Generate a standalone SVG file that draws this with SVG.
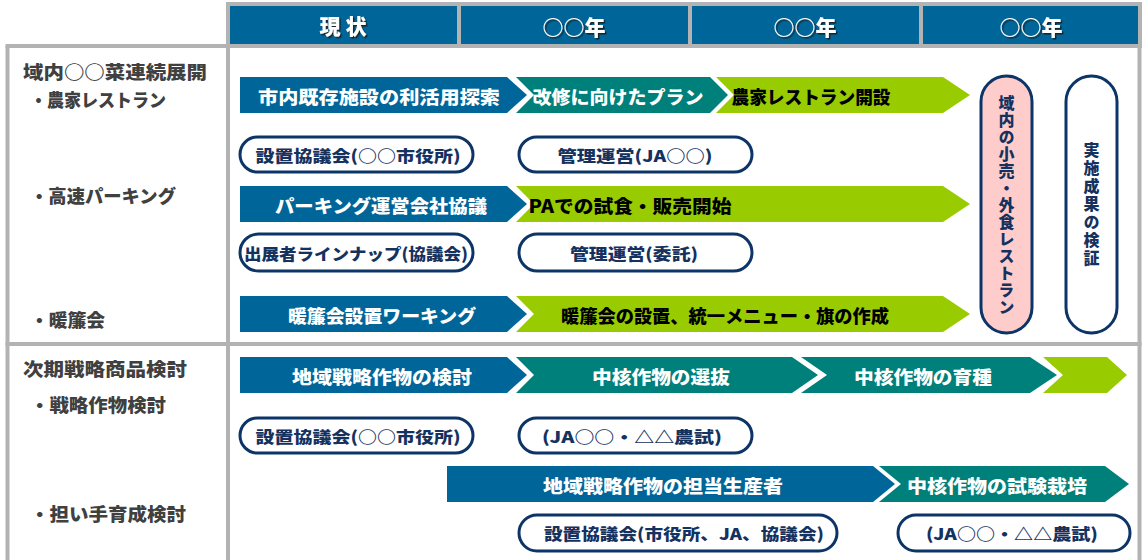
<svg xmlns="http://www.w3.org/2000/svg" width="1146" height="560" viewBox="0 0 1146 560">
<defs>
<style>
.t{font-family:"Noto Sans CJK JP","Noto Sans",sans-serif;font-weight:900;dominant-baseline:central}
.lbl{font-size:18px;fill:#404040}
.hd{font-size:21px;fill:#ffffff;text-anchor:middle;filter:url(#sh)}
.aw{font-size:18px;fill:#ffffff;text-anchor:middle}
.ab{font-size:18px;fill:#000000;text-anchor:middle}
.pt{font-size:16px;fill:#15325f;text-anchor:middle}
.blue{fill:#006699}
.teal{fill:#00807b}
.green{fill:#99cc00}
.pill{fill:#ffffff;stroke:#0d3466;stroke-width:3}
.frame{stroke:#b3b3b3;stroke-width:4;fill:none}
.vt{font-size:16px;fill:#15325f;text-anchor:middle;writing-mode:vertical-rl}
</style>
<filter id="sh" x="-10%" y="-20%" width="130%" height="150%">
<feDropShadow dx="1.5" dy="1.5" stdDeviation="0" flood-color="#1a1a1a" flood-opacity="0.9"/>
</filter>
</defs>
<rect width="1146" height="560" fill="#ffffff"/>

<g id="frame">
<rect x="226" y="2" width="916" height="46" fill="#b3b3b3"/>
<line class="frame" x1="7.5" y1="46" x2="7.5" y2="560"/>
<line class="frame" x1="5.5" y1="46" x2="228" y2="46"/>
<line class="frame" x1="228" y1="44" x2="228" y2="560"/>
<line class="frame" x1="1139.5" y1="44" x2="1139.5" y2="560"/>
<line class="frame" x1="5.5" y1="344" x2="1141.5" y2="344"/>
</g>

<g id="header">
<rect class="blue" x="230" y="6" width="227" height="38"/>
<rect class="blue" x="461" y="6" width="227" height="38"/>
<rect class="blue" x="692" y="6" width="227" height="38"/>
<rect class="blue" x="923" y="6" width="215" height="38"/>
<text class="t hd" x="343" y="25">現 状</text>
<text class="t hd" x="574" y="26">○○年</text>
<text class="t hd" x="805" y="26">○○年</text>
<text class="t hd" x="1031" y="26">○○年</text>
</g>

<g id="labels">
<text class="t lbl" x="23" y="71" textLength="184" lengthAdjust="spacingAndGlyphs">域内○○菜連続展開</text>
<text class="t lbl" x="30" y="99" textLength="136" lengthAdjust="spacingAndGlyphs">・農家レストラン</text>
<text class="t lbl" x="30" y="195" textLength="146" lengthAdjust="spacingAndGlyphs">・高速パーキング</text>
<text class="t lbl" x="30" y="319" textLength="75" lengthAdjust="spacingAndGlyphs">・暖簾会</text>
<text class="t lbl" x="23" y="368" textLength="164" lengthAdjust="spacingAndGlyphs">次期戦略商品検討</text>
<text class="t lbl" x="30" y="404" textLength="136" lengthAdjust="spacingAndGlyphs">・戦略作物検討</text>
<text class="t lbl" x="30" y="513" textLength="156" lengthAdjust="spacingAndGlyphs">・担い手育成検討</text>
</g>

<g id="row-restaurant">
<g id="a-explore"><polygon class="blue" points="240,77 507,77 527,95 507,113 240,113"/><text class="t aw" x="379" y="96" textLength="242" lengthAdjust="spacingAndGlyphs">市内既存施設の利活用探索</text></g>
<g id="a-plan"><polygon class="teal" points="516,77 710,77 728,95 710,113 516,113 534,95"/><text class="t aw" x="618" y="96" textLength="171" lengthAdjust="spacingAndGlyphs">改修に向けたプラン</text></g>
<g id="a-open"><polygon class="green" points="716,77 943,77 970,95 943,113 716,113 734,95"/><text class="t ab" x="811" y="96" textLength="159" lengthAdjust="spacingAndGlyphs">農家レストラン開設</text></g>
</g>

<g id="row-parking">
<g id="p-council1"><rect class="pill" x="240" y="137" width="233" height="35" rx="17.5"/><text class="t pt" x="358" y="155" textLength="205" lengthAdjust="spacingAndGlyphs">設置協議会(○○市役所)</text></g>
<g id="p-mgmt-ja"><rect class="pill" x="519" y="137" width="233" height="35" rx="17.5"/><text class="t pt" x="635" y="155" textLength="155" lengthAdjust="spacingAndGlyphs">管理運営(JA○○)</text></g>
<g id="a-parking"><polygon class="blue" points="240,186 507,186 527,204 507,222 240,222"/><text class="t aw" x="381" y="205" textLength="212" lengthAdjust="spacingAndGlyphs">パーキング運営会社協議</text></g>
<g id="a-pa"><polygon class="green" points="516,186 943,186 970,204 943,222 516,222 534,204"/><text class="t ab" x="630" y="205" textLength="203" lengthAdjust="spacingAndGlyphs">PAでの試食・販売開始</text></g>
<g id="p-lineup"><rect class="pill" x="240" y="234" width="233" height="37" rx="18.5"/><text class="t pt" x="356" y="253" textLength="224" lengthAdjust="spacingAndGlyphs">出展者ラインナップ(協議会)</text></g>
<g id="p-mgmt-consign"><rect class="pill" x="519" y="234" width="233" height="37" rx="18.5"/><text class="t pt" x="634" y="253" textLength="128" lengthAdjust="spacingAndGlyphs">管理運営(委託)</text></g>
</g>

<g id="row-noren">
<g id="a-noren-wg"><polygon class="blue" points="240,296 507,296 527,314 507,332 240,332"/><text class="t aw" x="382" y="315" textLength="188" lengthAdjust="spacingAndGlyphs">暖簾会設置ワーキング</text></g>
<g id="a-noren"><polygon class="green" points="516,296 943,296 970,314 943,332 516,332 534,314"/><text class="t ab" x="725" y="315" textLength="328" lengthAdjust="spacingAndGlyphs">暖簾会の設置、統一メニュー・旗の作成</text></g>
</g>

<g id="v-retail"><rect x="981" y="76" width="51" height="257" rx="25.5" fill="#ffcccc" stroke="#0d3466" stroke-width="3"/><text class="t vt" x="1006.5" y="205" letter-spacing="1">域内の小売・外食レストラン</text></g>
<g id="v-verify"><rect class="pill" x="1066" y="76" width="51" height="257" rx="25.5"/><text class="t vt" x="1091.5" y="205" letter-spacing="2">実施成果の検証</text></g>

<g id="row-crops">
<g id="a-crop-study"><polygon class="blue" points="240,357 507,357 527,375 507,393 240,393"/><text class="t aw" x="382" y="376" textLength="180" lengthAdjust="spacingAndGlyphs">地域戦略作物の検討</text></g>
<g id="a-select"><polygon class="teal" points="516,357 792,357 818,375 792,393 516,393 534,375"/><text class="t aw" x="661" y="376" textLength="138" lengthAdjust="spacingAndGlyphs">中核作物の選抜</text></g>
<g id="a-breed"><polygon class="teal" points="801,357 1030,357 1057,375 1030,393 801,393 827,375"/><text class="t aw" x="923" y="376" textLength="138" lengthAdjust="spacingAndGlyphs">中核作物の育種</text></g>
<g id="a-next"><polygon class="green" points="1043,357 1107,357 1127,375 1107,393 1043,393 1063,375"/></g>
<g id="p-council2"><rect class="pill" x="240" y="418" width="233" height="35" rx="17.5"/><text class="t pt" x="358" y="436" textLength="205" lengthAdjust="spacingAndGlyphs">設置協議会(○○市役所)</text></g>
<g id="p-ja1"><rect class="pill" x="519" y="418" width="233" height="35" rx="17.5"/><text class="t pt" x="632" y="436" textLength="180" lengthAdjust="spacingAndGlyphs">(JA○○・△△農試)</text></g>
</g>

<g id="row-growers">
<g id="a-growers"><polygon class="blue" points="447,466 873,466 895,484 873,502 447,502"/><text class="t aw" x="663" y="485" textLength="240" lengthAdjust="spacingAndGlyphs">地域戦略作物の担当生産者</text></g>
<g id="a-trial"><polygon class="teal" points="879,466 1105,466 1129,484 1105,502 879,502 901,484"/><text class="t aw" x="997" y="485" textLength="180" lengthAdjust="spacingAndGlyphs">中核作物の試験栽培</text></g>
<g id="p-council3"><rect class="pill" x="519" y="515" width="318" height="36" rx="18"/><text class="t pt" x="684" y="533" textLength="280" lengthAdjust="spacingAndGlyphs">設置協議会(市役所、JA、協議会)</text></g>
<g id="p-ja2"><rect class="pill" x="898" y="515" width="232" height="36" rx="18"/><text class="t pt" x="1012" y="533" textLength="172" lengthAdjust="spacingAndGlyphs">(JA○○・△△農試)</text></g>
</g>
</svg>
